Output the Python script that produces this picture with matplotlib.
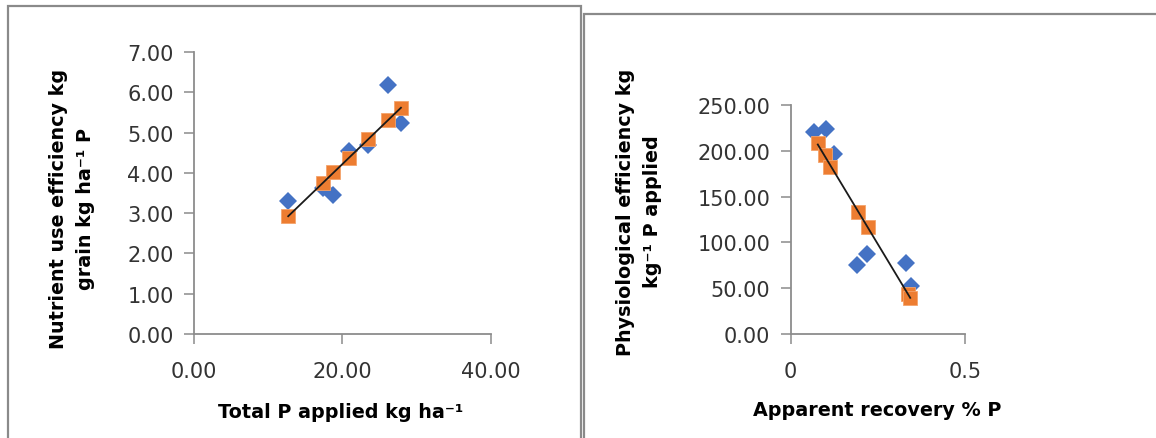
import numpy as np
import matplotlib
matplotlib.use('Agg')
import matplotlib.pyplot as plt
from matplotlib.lines import Line2D

# left panel: total P applied vs nutrient use efficiency
p_applied = [12.7, 17.4, 18.8, 20.9, 23.4, 26.2, 27.9]
nue_observed = [3.30, 3.62, 3.46, 4.55, 4.68, 6.17, 5.23]
nue_predicted = [2.92, 3.75, 4.01, 4.37, 4.84, 5.32, 5.60]

# right panel: apparent recovery vs physiological efficiency
recovery_observed = [0.067, 0.101, 0.124, 0.190, 0.219, 0.331, 0.345]
pe_observed = [221, 224, 196, 75, 87, 77, 52]
recovery_predicted = [0.078, 0.098, 0.114, 0.193, 0.221, 0.336, 0.342]
pe_predicted = [208, 195, 182, 133, 117, 44, 39]

BLUE = '#4472C4'
ORANGE = '#ED7D31'
AXIS_GREY = '#8c8c8c'
TEXT = '#333333'

W, H = 1156, 439
fig = plt.figure(figsize=(W / 100, H / 100), dpi=100)
fig.patch.set_facecolor('white')


def px_rect(x0, y0, x1, y1):
    # pixel box (top-left origin) -> figure fraction rect
    return [x0 / W, 1 - y1 / H, (x1 - x0) / W, (y1 - y0) / H]


def draw_frame(points):
    xs = [p[0] / W for p in points]
    ys = [1 - p[1] / H for p in points]
    fig.add_artist(Line2D(xs, ys, transform=fig.transFigure,
                          color='#8a8a8a', lw=1.6, solid_joinstyle='miter'))


def style_axes(ax):
    for side in ('top', 'right'):
        ax.spines[side].set_visible(False)
    for side in ('left', 'bottom'):
        ax.spines[side].set_color(AXIS_GREY)
        ax.spines[side].set_linewidth(1.3)
    ax.tick_params(axis='both', direction='out', length=7.5, width=1.1,
                   color=AXIS_GREY, labelcolor=TEXT, labelsize=15)
    ax.tick_params(axis='y', pad=7)
    ax.tick_params(axis='x', pad=12)
    ax.set_facecolor('none')


def scatter_with_trend(ax, x_obs, y_obs, x_pred, y_pred):
    ax.plot(x_obs, y_obs, linestyle='none', marker='D', markersize=9,
            color=BLUE, markeredgewidth=0, zorder=3, clip_on=False)
    ax.plot(x_pred, y_pred, linestyle='none', marker='s', markersize=10.5,
            color=ORANGE, markeredgecolor='#F4A36B', markeredgewidth=0.6,
            zorder=4, clip_on=False)
    slope, intercept = np.polyfit(x_pred, y_pred, 1)
    xs = np.array([min(x_pred), max(x_pred)])
    ax.plot(xs, slope * xs + intercept, color='#1a1a1a', lw=1.3, zorder=5)


# frames around the two pasted chart images
draw_frame([(8, H + 5), (8, 6.5), (581, 6.5), (581, H + 5)])
draw_frame([(583.5, H + 5), (583.5, 15), (W + 5, 15)])

# left chart
ax1 = fig.add_axes(px_rect(194, 53, 490.7, 335))
scatter_with_trend(ax1, p_applied, nue_observed, p_applied, nue_predicted)
ax1.set_xlim(0, 40)
ax1.set_ylim(0, 7)
ax1.set_xticks([0, 20, 40])
ax1.set_yticks(np.arange(0, 8, 1))
ax1.xaxis.set_major_formatter(matplotlib.ticker.FormatStrFormatter('%.2f'))
ax1.yaxis.set_major_formatter(matplotlib.ticker.FormatStrFormatter('%.2f'))
style_axes(ax1)

fig.text(341 / W, 1 - 413 / H, 'Total P applied kg ha\u207b\u00b9',
         ha='center', va='center', fontsize=13.8, fontweight='bold',
         color='black')
fig.text(72 / W, 1 - 209 / H,
         'Nutrient use efficiency kg\ngrain kg ha\u207b\u00b9 P',
         ha='center', va='center', rotation=90, fontsize=13.8,
         fontweight='bold', color='black', linespacing=1.5,
         multialignment='center')

# right chart
ax2 = fig.add_axes(px_rect(790.5, 106, 965.5, 335))
scatter_with_trend(ax2, recovery_observed, pe_observed,
                   recovery_predicted, pe_predicted)
ax2.set_xlim(0, 0.5)
ax2.set_ylim(0, 250)
ax2.set_xticks([0, 0.5])
ax2.set_xticklabels(['0', '0.5'])
ax2.set_yticks(np.arange(0, 251, 50))
ax2.yaxis.set_major_formatter(matplotlib.ticker.FormatStrFormatter('%.2f'))
style_axes(ax2)

fig.text(877 / W, 1 - 411 / H, 'Apparent recovery % P',
         ha='center', va='center', fontsize=13.8, fontweight='bold',
         color='black')
fig.text(639 / W, 1 - 212 / H,
         'Physiological efficiency kg\nkg\u207b\u00b9 P applied',
         ha='center', va='center', rotation=90, fontsize=13.8,
         fontweight='bold', color='black', linespacing=1.5,
         multialignment='center')

fig.savefig('out.png', dpi=100)
